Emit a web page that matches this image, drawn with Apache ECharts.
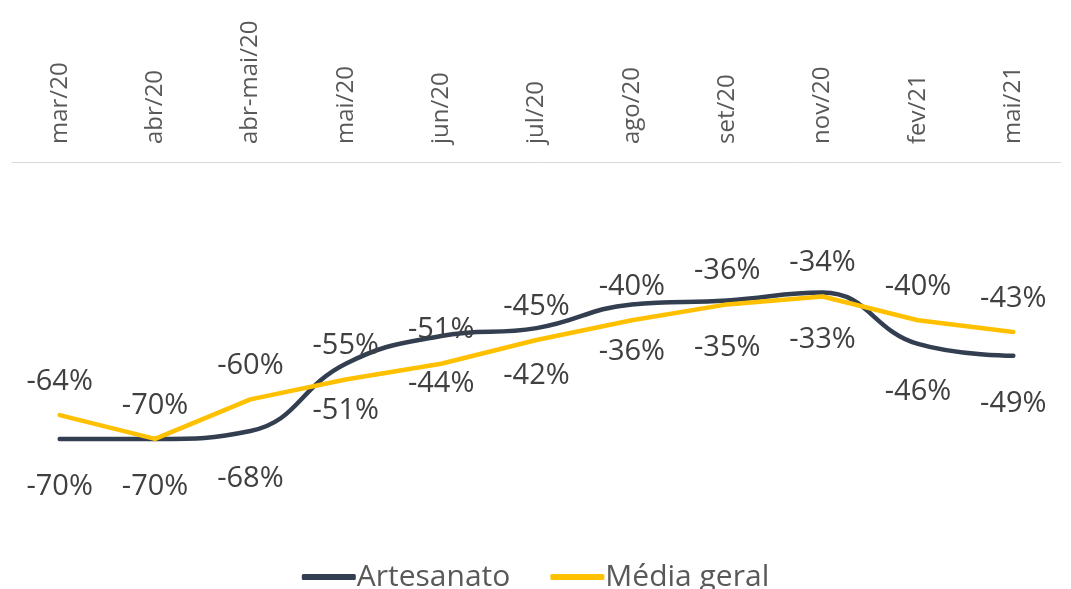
<!DOCTYPE html>
<html>
<head>
<meta charset="utf-8">
<script src="https://cdn.jsdelivr.net/npm/echarts@6/dist/echarts.min.js"></script>
<style>
  html, body { margin: 0; padding: 0; background: #fff; }
  #chart { width: 1071px; height: 589px; }
</style>
</head>
<body>
<div id="chart"></div>
<script>
// categorias (eixo x, no topo)
const meses = ['mar/20', 'abr/20', 'abr-mai/20', 'mai/20', 'jun/20', 'jul/20', 'ago/20', 'set/20', 'nov/20', 'fev/21', 'mai/21'];
// valores em %
const artesanato = [-70, -70, -68, -51, -44, -42, -36, -35, -33, -46, -49];
const mediaGeral = [-64, -70, -60, -55, -51, -45, -40, -36, -34, -40, -43];

const fonte = '"Open Sans", "Noto Sans", sans-serif';

const chart = echarts.init(document.getElementById('chart'));

chart.setOption({
    animation: false,
    textStyle: { fontFamily: fonte },
    grid: {
        left: 12,
        right: 10,
        top: 162,
        bottom: 71
    },
    xAxis: {
        type: 'category',
        position: 'top',
        data: meses,
        boundaryGap: true,
        axisLine: { lineStyle: { color: '#d9d9d9', width: 1 } },
        axisTick: { show: false },
        axisLabel: {
            rotate: 90,
            color: '#595959',
            fontSize: 24,
            margin: 18,
            fontFamily: fonte
        }
    },
    yAxis: {
        type: 'value',
        min: -90,
        max: 0,
        show: false,
        splitLine: { show: false }
    },
    legend: {
        bottom: -8,
        left: 'center',
        itemWidth: 54,
        itemHeight: 6,
        itemGap: 40,
        icon: 'roundRect',
        textStyle: { color: '#595959', fontSize: 30, fontFamily: fonte, padding: [0, 0, 0, -4] },
        data: ['Artesanato', 'Média geral']
    },
    series: [
        {
            name: 'Artesanato',
            type: 'line',
            data: artesanato,
            smooth: 0.45,
            symbol: 'circle',
            symbolSize: 0,
            showSymbol: true,
            lineStyle: { color: '#333f50', width: 4.5, cap: 'round' },
            itemStyle: { color: '#333f50' },
            label: {
                show: true,
                position: 'bottom',
                distance: 33,
                formatter: p => p.value + '%',
                color: '#404040',
                fontSize: 29,
                fontFamily: fonte
            },
            z: 3
        },
        {
            name: 'Média geral',
            type: 'line',
            data: mediaGeral,
            smooth: false,
            symbol: 'circle',
            symbolSize: 0,
            showSymbol: true,
            lineStyle: { color: '#ffc000', width: 4.5, cap: 'round', join: 'round' },
            itemStyle: { color: '#ffc000' },
            label: {
                show: true,
                position: 'top',
                distance: 19,
                formatter: p => p.value + '%',
                color: '#404040',
                fontSize: 29,
                fontFamily: fonte
            },
            z: 4
        }
    ]
});
</script>
</body>
</html>
